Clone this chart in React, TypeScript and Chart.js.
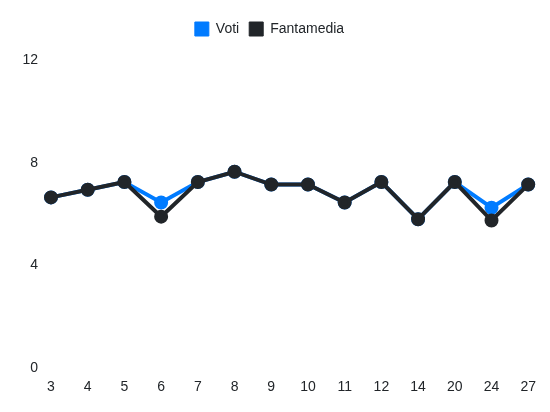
import { useEffect, useRef } from 'react';
import { Chart, registerables } from 'chart.js';

Chart.register(...registerables);

const giornate = ['3', '4', '5', '6', '7', '8', '9', '10', '11', '12', '14', '20', '24', '27'];
const voti = [6.65, 6.95, 7.25, 6.45, 7.25, 7.65, 7.15, 7.15, 6.45, 7.25, 5.8, 7.25, 6.25, 7.15];
const fantamedia = [6.65, 6.95, 7.25, 5.9, 7.25, 7.65, 7.15, 7.15, 6.45, 7.25, 5.8, 7.25, 5.75, 7.15];

const BLUE = '#007bff';
const DARK = '#212529';

// extra space under the legend
const legendMargin = {
  id: 'legendMargin',
  beforeInit(chart: any) {
    const fit = chart.legend.fit;
    chart.legend.fit = function () {
      fit.bind(chart.legend)();
      this.height += 14;
    };
  },
};

export default function App() {
  const canvasRef = useRef<HTMLCanvasElement>(null);

  useEffect(() => {
    const ctx = canvasRef.current?.getContext('2d');
    if (!ctx) return;
    Chart.defaults.font.family = "Arial, 'Liberation Sans', sans-serif";
    const chart = new Chart(ctx, {
      type: 'line',
      data: {
        labels: giornate,
        datasets: [
          {
            label: 'Voti',
            data: voti,
            borderColor: BLUE,
            backgroundColor: BLUE,
            pointBackgroundColor: BLUE,
            pointBorderColor: BLUE,
            borderWidth: 4,
            pointRadius: 5,
            tension: 0,
            order: 2,
          },
          {
            label: 'Fantamedia',
            data: fantamedia,
            borderColor: DARK,
            backgroundColor: DARK,
            pointBackgroundColor: DARK,
            pointBorderColor: DARK,
            borderWidth: 4,
            pointRadius: 5,
            tension: 0,
            order: 1,
          },
        ],
      },
      plugins: [legendMargin],
      options: {
        animation: false,
        responsive: true,
        maintainAspectRatio: false,
        layout: { padding: { left: 0, right: 0, top: 12, bottom: 13 } },
        plugins: {
          legend: {
            position: 'top',
            labels: {
              boxWidth: 14,
              boxHeight: 14,
              color: DARK,
              font: { size: 14 },
              sort: (a, b) => (a.datasetIndex ?? 0) - (b.datasetIndex ?? 0),
              generateLabels: (c) =>
                Chart.defaults.plugins.legend.labels
                  .generateLabels(c)
                  .map((item) => ({ ...item, lineWidth: 1 })),
            },
          },
          tooltip: { enabled: false },
        },
        scales: {
          x: {
            grid: { display: false },
            border: { display: false },
            ticks: { color: DARK, font: { size: 14 } },
          },
          y: {
            min: 0,
            max: 12,
            grid: { display: false },
            border: { display: false },
            ticks: { stepSize: 4, padding: 5, color: DARK, font: { size: 14 } },
            afterFit: (scale) => {
              scale.width = 51;
            },
          },
        },
      },
    });
    return () => chart.destroy();
  }, []);

  return (
    <div style={{ position: 'fixed', left: 0, top: 0, width: 539, height: 412, background: '#fff' }}>
      <canvas ref={canvasRef} />
    </div>
  );
}
